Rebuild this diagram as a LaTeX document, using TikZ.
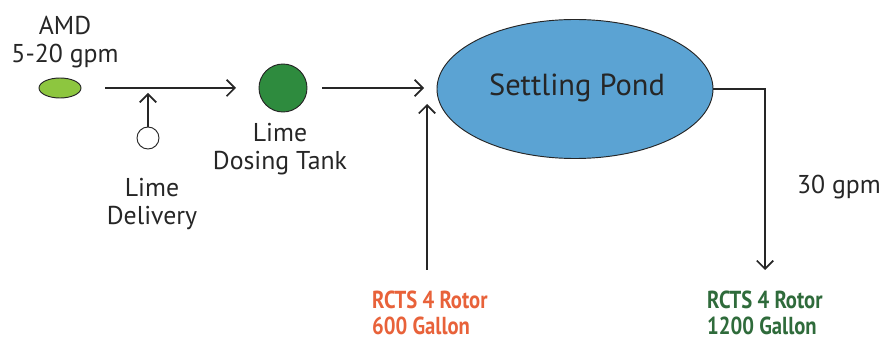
\documentclass[tikz,border=0pt]{standalone}
\usepackage{fontspec}
\setmainfont{PT Sans}
\newfontfamily\rotorfont[FakeStretch=0.84]{PT Sans}
\usepackage{tikz}
\usetikzlibrary{positioning, calc, arrows.meta, shapes.geometric}
\definecolor{amdgreen}{HTML}{8DC63F}
\definecolor{tankgreen}{HTML}{2E8B3E}
\definecolor{pondblue}{HTML}{5BA3D3}
\definecolor{rotororange}{HTML}{E8623A}
\definecolor{rotorgreen}{HTML}{2F6B3B}
\tikzstyle{lbl}=[align=center,
                 font=\fontsize{22}{24.5}\selectfont,
                 text=black!85,
                 inner sep=0pt]
\tikzstyle{rotor}=[align=left,
                   font=\fontsize{21}{22}\rotorfont\bfseries,
                   inner sep=0pt]
\tikzstyle{flow}=[draw=black!85,
                  line width=1.4pt]

\begin{document}
\begin{tikzpicture}[x=0.03cm, y=-0.03cm, >={Straight Barb[length=7pt, width=14pt, line width=1.4pt]}]
\useasboundingbox (0,0) rectangle (883,341);

% sources
\node[ellipse, draw=black!85, thick, fill=amdgreen, minimum width=42*0.03cm, minimum height=20*0.03cm] (amd) at (60,88) {};
\node[lbl] (amdtxt) at (65,42) {AMD\\5-20 gpm};
\node[circle, draw=black!85, thick, fill=white, minimum size=22*0.03cm] (lime) at (148,138) {};
\node[lbl] (limetxt) at (152,204) {Lime\\Delivery};

% tank and pond
\node[circle, draw=black!85, thick, fill=tankgreen, minimum size=48*0.03cm] (tank) at (283,88) {};
\node[lbl] (tanktxt) at (280,149) {Lime\\Dosing Tank};
\node[ellipse, draw=black!85, thick, fill=pondblue, minimum width=276*0.03cm, minimum height=139*0.03cm] (pond) at (575,89) {};
\node[font=\fontsize{26}{28}\selectfont, text=black!85] (pondtxt) at (577,88) {Settling Pond};

% rotors
\node[rotor, text=rotororange, anchor=west] (r600) at (372,313) {RCTS 4 Rotor\\600 Gallon};
\node[rotor, text=rotorgreen, anchor=west] (r1200) at (707,313) {RCTS 4 Rotor\\1200 Gallon};
\node[lbl, anchor=east] (gpm) at (881,187) {30 gpm};

% paths
\coordinate (a1) at (105,88);
\coordinate (a2) at (236,88);
\coordinate (b1) at (322,88);
\coordinate (b2) at (424,88);
\coordinate (m1) at (148,93);
\coordinate (c1) at (427,270);
\coordinate (c2) at (427,104);
\coordinate (d2) at (765,270);

\draw[->, flow] (a1) -- (a2);
\draw[->, flow] (lime.north) -- (m1);
\draw[->, flow] (b1) -- (b2);
\draw[->, flow] (c1) -- (c2);
\draw[->, flow] (pond.east) -| (d2);

\end{tikzpicture}
\end{document}
